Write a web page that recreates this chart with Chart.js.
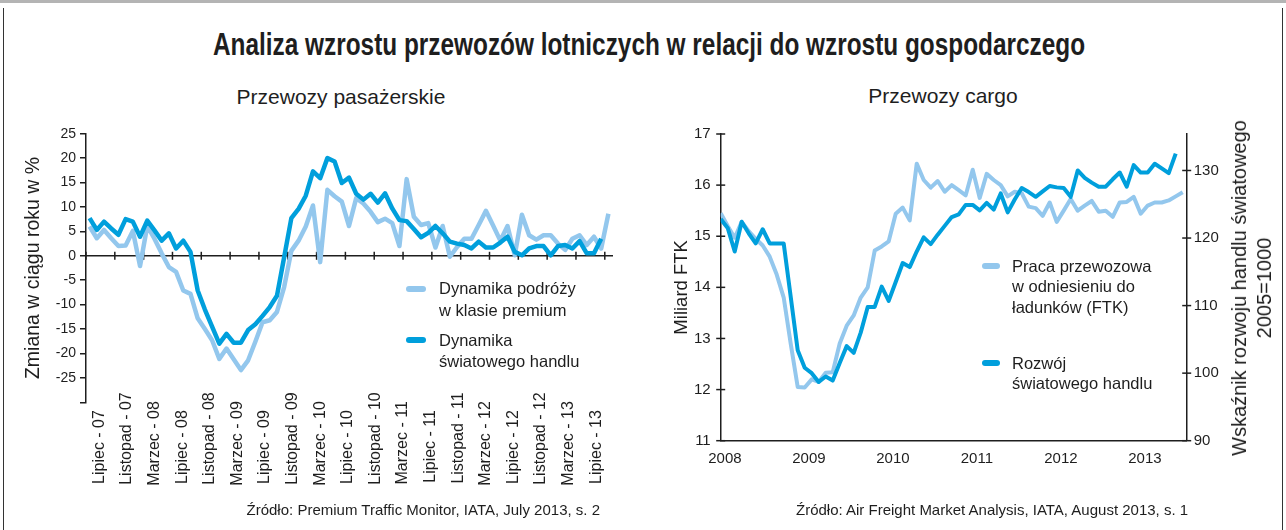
<!DOCTYPE html>
<html lang="pl">
<head>
<meta charset="utf-8">
<title>Analiza wzrostu przewozów lotniczych</title>
<script src="https://cdn.jsdelivr.net/npm/chart.js@4.4.1/dist/chart.umd.min.js"></script>
<style>
    html, body { margin: 0; padding: 0; background: #fff; }
    #page {
        position: relative;
        width: 1286px;
        height: 530px;
        overflow: hidden;
        font-family: "Liberation Sans", Arial, sans-serif;
        color: #1e1e1e;
    }
    .frame-top { position: absolute; left: 0; top: 0; width: 1286px; height: 3px; background: #b4b4b4; }
    .frame-left { position: absolute; left: 3px; top: 8px; width: 1px; height: 522px; background: #333; }
    .frame-right { position: absolute; left: 1282px; top: 8px; width: 1px; height: 522px; background: #333; }
    #title {
        position: absolute;
        left: 213px;
        top: 25px;
        white-space: nowrap;
        font-family: "Liberation Sans Narrow", "Liberation Sans", sans-serif;
        font-weight: bold;
        font-size: 32px;
        line-height: 38px;
        transform-origin: 0 0;
    }
    .sub {
        position: absolute;
        font-size: 21px;
        line-height: 24px;
        white-space: nowrap;
        transform: translateX(-50%);
    }
    .source {
        position: absolute;
        font-size: 15px;
        line-height: 18px;
        white-space: nowrap;
    }
    canvas { position: absolute; top: 0; }
    .legend-item {
        position: absolute;
        font-size: 16.5px;
        line-height: 21px;
        white-space: nowrap;
    }
    .legend-item .swatch {
        position: absolute;
        height: 6px;
        border-radius: 3px;
    }
    #rightTitle {
        position: absolute;
        left: 1252px;
        top: 288px;
        font-size: 20px;
        line-height: 25px;
        text-align: center;
        white-space: nowrap;
        transform: translate(-50%, -50%) rotate(-90deg);
    }
</style>
</head>
<body>
<div id="page">
    <div class="frame-top"></div>
    <div class="frame-left"></div>
    <div class="frame-right"></div>

    <div id="title"><span id="titleText">Analiza wzrostu przewozów lotniczych w relacji do wzrostu gospodarczego</span></div>
    <div class="sub" style="left:341px; top:85px;">Przewozy pasażerskie</div>
    <div class="sub" style="left:943px; top:84px;">Przewozy cargo</div>

    <canvas id="passChart" width="640" height="530" style="left:0;"></canvas>
    <canvas id="cargoChart" width="646" height="530" style="left:640px;"></canvas>

    <div id="rightTitle">Wskaźnik rozwoju handlu światowego<br>2005=1000</div>

    <div class="source" style="right:686px; top:501px;">Źródło: Premium Traffic Monitor, IATA, July 2013, s. 2</div>
    <div class="source" style="left:796px; top:501px;">Źródło: Air Freight Market Analysis, IATA, August 2013, s. 1</div>
</div>

<script>
/* ===============================
   DATA
=============================== */

// left chart: monthly, from July 2007
const passTicks = [
    "Lipiec - 07", "Listopad - 07", "Marzec - 08", "Lipiec - 08", "Listopad - 08",
    "Marzec - 09", "Lipiec - 09", "Listopad - 09", "Marzec - 10", "Lipiec - 10",
    "Listopad - 10", "Marzec - 11", "Lipiec - 11", "Listopad - 11", "Marzec - 12",
    "Lipiec - 12", "Listopad - 12", "Marzec - 13", "Lipiec - 13"
];

const premiumGrowth = [
    6.0, 3.6, 5.3, 3.6, 2.0, 2.1, 5.1, -2.1, 6.1, 3.5,
    0.5, -2.3, -3.3, -7.1, -7.8, -12.8, -15.0, -17.3, -21.1, -19.0,
    -21.2, -23.4, -21.4, -17.6, -13.6, -13.2, -11.5, -6.4, 1.0, 3.1,
    6.0, 10.3, -1.3, 13.5, 12.2, 11.1, 6.1, 11.8, 10.7, 9.0,
    6.9, 7.6, 6.7, 2.0, 15.7, 8.0, 6.3, 6.7, 1.7, 6.1,
    -0.2, 1.8, 3.5, 3.5, 6.3, 9.2, 6.2, 3.1, 6.1, 0.1,
    8.4, 4.2, 3.3, 4.2, 4.2, 2.5, 1.2, 3.5, 4.2, 2.2,
    3.9, 1.5, 8.6
];

const tradeGrowth = [
    7.7, 5.3, 7.0, 5.6, 4.3, 7.5, 7.0, 3.9, 7.2, 5.2,
    3.1, 4.6, 1.5, 3.1, 0.8, -7.1, -11.0, -14.5, -18.0, -16.0,
    -17.8, -17.8, -15.2, -14.0, -12.3, -10.5, -8.2, -0.3, 7.7, 9.6,
    12.3, 17.3, 15.9, 20.0, 19.3, 14.9, 16.0, 12.7, 11.5, 12.7,
    10.9, 12.8, 9.7, 7.3, 7.1, 5.5, 3.8, 4.7, 6.1, 4.6,
    2.9, 2.5, 2.2, 1.5, 2.9, 1.7, 1.7, 2.7, 3.9, 0.8,
    0.1, 1.5, 2.0, 2.0, 0.1, 2.0, 2.2, 1.5, 3.0, 0.5,
    0.5, 3.5
];

// right chart: monthly, from January 2008
const cargoYears = ["2008", "2009", "2010", "2011", "2012", "2013"];

const ftkValues = [
    15.45, 15.2, 14.97, 15.28, 15.1, 14.95, 14.82, 14.6, 14.25, 13.8,
    12.9, 12.05, 12.04, 12.2, 12.15, 12.33, 12.34, 12.9, 13.25, 13.45,
    13.8, 14.0, 14.72, 14.8, 14.9, 15.44, 15.56, 15.31, 16.42, 16.1,
    15.95, 16.08, 15.87, 16.0, 15.9, 15.8, 16.3, 15.75, 16.22, 16.1,
    16.0, 15.78, 15.87, 15.84, 15.58, 15.55, 15.4, 15.66, 15.28, 15.5,
    15.73, 15.5, 15.6, 15.69, 15.48, 15.5, 15.38, 15.66, 15.67, 15.77,
    15.44, 15.6, 15.66, 15.66, 15.7, 15.78, 15.86
];

const tradeIndex = [
    122.8, 121.5, 118.0, 122.4, 120.7, 119.2, 121.3, 119.2, 119.2, 119.2,
    111.3, 103.4, 100.8, 100.0, 98.7, 99.5, 98.9, 101.5, 104.0, 103.0,
    106.0, 109.8, 109.8, 112.8, 110.7, 113.5, 116.3, 115.7, 118.0, 120.1,
    119.1, 120.5, 121.8, 123.1, 123.5, 124.9, 124.9, 124.1, 125.2, 124.2,
    126.6, 123.8, 125.7, 127.4, 126.8, 126.1, 126.9, 127.7, 127.5, 127.4,
    126.1, 130.0, 128.9, 128.2, 127.6, 127.6, 128.7, 129.7, 127.6, 130.8,
    129.7, 129.7, 131.0, 130.3, 129.6, 132.5
];

/* ===============================
   STYLE
=============================== */
const LIGHT = "#93c7ed";
const DARK = "#009fdc";
const INK = "#1e1e1e";
const FONT = "'Liberation Sans', Arial, sans-serif";

Chart.defaults.font.family = FONT;
Chart.defaults.color = INK;
Chart.defaults.animation = false;

// small plugin: tick marks that cross the axis line (like the Excel original)
const crossTicks = {
    id: "crossTicks",
    beforeDatasetsDraw(chart, args, opts) {
        const ctx = chart.ctx;
        ctx.save();
        ctx.strokeStyle = opts.color;
        ctx.lineWidth = opts.width;
        (opts.marks || []).forEach(m => {
            const scale = chart.scales[m.scale];
            scale.ticks.forEach(t => {
                ctx.beginPath();
                if (scale.isHorizontal()) {
                    const x = scale.getPixelForValue(t.value);
                    const y = chart.scales[m.across].getPixelForValue(m.at);
                    ctx.moveTo(x, y - opts.size);
                    ctx.lineTo(x, y + opts.size);
                } else {
                    const y = scale.getPixelForValue(t.value);
                    const x = scale.position === "left" ? scale.right : scale.left;
                    ctx.moveTo(x - opts.size, y);
                    ctx.lineTo(x + opts.size, y);
                }
                ctx.stroke();
            });
        });
        ctx.restore();
    }
};

// rotated labels are end-aligned by Chart.js; pad them so they start on one line
const measure = document.createElement("canvas").getContext("2d");
measure.font = "16px " + FONT;
const labelWidth = Math.max(...passTicks.map(t => measure.measureText(t).width));
function padLabel(text) {
    let s = text;
    while (measure.measureText(s + " ").width <= labelWidth + 1) s += " ";
    return s;
}

/* ===============================
   LEFT CHART
=============================== */
const passChart = new Chart(document.getElementById("passChart"), {
    type: "line",
    data: {
        datasets: [
            {
                label: "Dynamika podróży\nw klasie premium",
                data: premiumGrowth.map((v, i) => ({ x: i, y: v })),
                borderColor: LIGHT,
                borderWidth: 4.5,
                order: 2
            },
            {
                label: "Dynamika\nświatowego handlu",
                data: tradeGrowth.map((v, i) => ({ x: i, y: v })),
                borderColor: DARK,
                borderWidth: 4.5,
                order: 1
            }
        ]
    },
    options: {
        responsive: false,
        layout: { padding: { left: 0, top: 133.7, right: 28, bottom: 127.7 } },
        elements: {
            point: { radius: 0 },
            line: { tension: 0, borderJoinStyle: "round", fill: false }
        },
        plugins: {
            legend: { display: false },
            tooltip: { enabled: false },
            crossTicks: {
                color: INK, width: 1.5, size: 4,
                marks: [{ scale: "x", across: "y", at: 0 }]
            }
        },
        scales: {
            x: {
                type: "linear",
                min: -0.5,
                max: 72.5,
                position: { y: 0 },
                afterBuildTicks: axis => {
                    axis.ticks = passTicks.map((_, k) => ({ value: k * 4 - 0.5 }));
                },
                ticks: { display: false },
                grid: { display: false, drawTicks: false },
                border: { color: INK, width: 1.5 }
            },
            // month names hang below the plot, reading upwards
            xl: {
                type: "linear",
                position: { y: -30 },
                min: -1.93,
                max: 74.3,
                afterBuildTicks: axis => {
                    axis.ticks = passTicks.map((_, k) => ({ value: k * 4 }));
                },
                ticks: {
                    autoSkip: false,
                    minRotation: 90,
                    maxRotation: 90,
                    padding: -10,
                    font: { size: 16 },
                    callback: (value, index) => padLabel(passTicks[index])
                },
                grid: { display: false, drawTicks: false },
                border: { display: false }
            },
            y: {
                min: -30,
                max: 25,
                afterFit: scale => { scale.width = 86; },
                ticks: {
                    stepSize: 5,
                    padding: 4,
                    font: { size: 14 },
                    callback: v => (v === -30 ? "" : v)
                },
                grid: { drawOnChartArea: false, tickLength: 6, color: INK, lineWidth: 1.5 },
                border: { color: INK, width: 1.5 },
                title: {
                    display: true,
                    text: "Zmiana w ciągu roku w %",
                    font: { size: 19.5 },
                    padding: { top: 22 }
                }
            }
        }
    },
    plugins: [crossTicks]
});

/* ===============================
   RIGHT CHART
=============================== */
const cargoChart = new Chart(document.getElementById("cargoChart"), {
    type: "line",
    data: {
        datasets: [
            {
                label: "Praca przewozowa\nw odniesieniu do\nładunków (FTK)",
                data: ftkValues.map((v, i) => ({ x: i, y: v })),
                borderColor: LIGHT,
                borderWidth: 4,
                yAxisID: "yl",
                order: 2
            },
            {
                label: "Rozwój\nświatowego handlu",
                data: tradeIndex.map((v, i) => ({ x: i, y: v })),
                borderColor: DARK,
                borderWidth: 4,
                yAxisID: "yr",
                order: 1
            }
        ]
    },
    options: {
        responsive: false,
        layout: { padding: { left: 0, top: 134, right: 39.3, bottom: 49.3 } },
        elements: {
            point: { radius: 0 },
            line: { tension: 0, borderJoinStyle: "round", fill: false }
        },
        plugins: {
            legend: { display: false },
            tooltip: { enabled: false },
            crossTicks: {
                color: INK, width: 1.5, size: 4.5,
                marks: [{ scale: "yl" }, { scale: "yr" }]
            }
        },
        scales: {
            x: {
                type: "linear",
                min: 0,
                max: 66.57,
                // year labels sit a little to the right of each January
                afterBuildTicks: axis => {
                    axis.ticks = cargoYears.map((_, k) => ({ value: k * 12 + 0.6 }));
                },
                afterFit: scale => { scale.height = 40; },
                ticks: {
                    autoSkip: false,
                    maxRotation: 0,
                    padding: 9,
                    font: { size: 15 },
                    callback: (value, index) => cargoYears[index]
                },
                grid: { display: false, drawTicks: false },
                border: { color: INK, width: 1.5 }
            },
            yl: {
                position: "left",
                min: 11,
                max: 17,
                afterFit: scale => { scale.width = 80.7; },
                ticks: { stepSize: 1, padding: 10, font: { size: 15 } },
                grid: { display: false, drawTicks: false },
                border: { color: INK, width: 1.5 },
                title: {
                    display: true,
                    text: "Miliard FTK",
                    font: { size: 18.5 },
                    padding: { top: 31 }
                }
            },
            yr: {
                position: "right",
                min: 90,
                max: 135.4,
                afterBuildTicks: axis => {
                    axis.ticks = axis.ticks.filter(t => t.value % 10 === 0);
                },
                afterFit: scale => { scale.width = 60; },
                ticks: { stepSize: 10, padding: 7, font: { size: 15 } },
                grid: { display: false, drawTicks: false },
                border: { color: INK, width: 1.5 }
            }
        }
    },
    plugins: [crossTicks]
});

/* ===============================
   LEGENDS (html, placed inside plot)
=============================== */
const page = document.getElementById("page");

function buildLegend(chart, spots) {
    chart.data.datasets.forEach((ds, i) => {
        const spot = spots[i];
        const item = document.createElement("div");
        item.className = "legend-item";
        item.style.left = spot.x + "px";
        item.style.top = spot.y + "px";
        item.style.lineHeight = spot.lh + "px";

        const sw = document.createElement("span");
        sw.className = "swatch";
        sw.style.background = ds.borderColor;
        sw.style.left = (-spot.gap) + "px";
        sw.style.width = spot.sw + "px";
        sw.style.top = (spot.lh / 2 - 3) + "px";
        item.appendChild(sw);

        ds.label.split("\n").forEach((line, k) => {
            if (k > 0) item.appendChild(document.createElement("br"));
            item.appendChild(document.createTextNode(line));
        });
        page.appendChild(item);
    });
}

buildLegend(passChart, [
    { x: 439, y: 278, lh: 21.5, gap: 33, sw: 20 },
    { x: 439, y: 329.5, lh: 21.5, gap: 33, sw: 20 }
]);
buildLegend(cargoChart, [
    { x: 1012, y: 255.5, lh: 20.5, gap: 30, sw: 18 },
    { x: 1012, y: 352.5, lh: 20.5, gap: 30, sw: 18 }
]);

/* ===============================
   TITLE WIDTH (condensed face)
=============================== */
const titleText = document.getElementById("titleText");
const titleBox = document.getElementById("title");
titleBox.style.transform = "scaleX(" + (872 / titleText.offsetWidth) + ")";
</script>
</body>
</html>
